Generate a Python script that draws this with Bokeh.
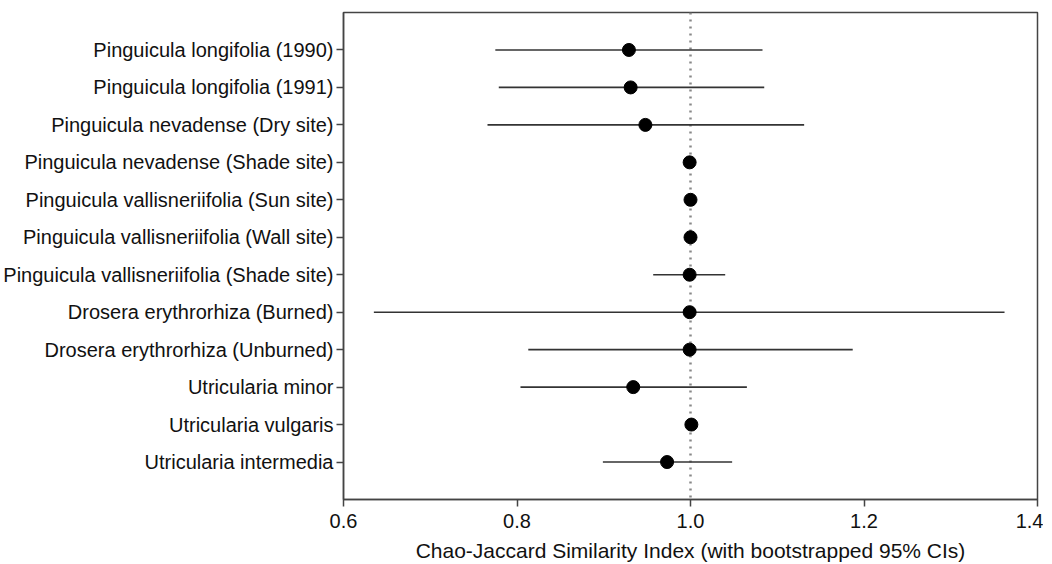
from bokeh.plotting import figure
from bokeh.models import ColumnDataSource, FixedTicker, Span, Range1d
from bokeh.embed import file_html
from bokeh.resources import INLINE

categories = [
    "Pinguicula longifolia (1990)",
    "Pinguicula longifolia (1991)",
    "Pinguicula nevadense (Dry site)",
    "Pinguicula nevadense (Shade site)",
    "Pinguicula vallisneriifolia (Sun site)",
    "Pinguicula vallisneriifolia (Wall site)",
    "Pinguicula vallisneriifolia (Shade site)",
    "Drosera erythrorhiza (Burned)",
    "Drosera erythrorhiza (Unburned)",
    "Utricularia minor",
    "Utricularia vulgaris",
    "Utricularia intermedia",
]
estimate = [0.929, 0.931, 0.948, 0.999, 1.000, 1.000, 0.999, 0.999, 0.999, 0.934, 1.001, 0.973]
ci_low   = [0.775, 0.779, 0.766, 0.999, 1.000, 1.000, 0.957, 0.635, 0.813, 0.804, 1.001, 0.899]
ci_high  = [1.083, 1.085, 1.131, 0.999, 1.000, 1.000, 1.040, 1.362, 1.187, 1.065, 1.001, 1.048]
x_ticks = [0.6, 0.8, 1.0, 1.2, 1.4]
x_label = "Chao-Jaccard Similarity Index (with bootstrapped 95% CIs)"

n = len(categories)
ypos = [n - i for i in range(n)]

src = ColumnDataSource(dict(y=ypos, est=estimate, lo=ci_low, hi=ci_high, name=categories))

FONT = "Liberation Sans"
TXT = "#111111"
AX = "#444444"

p = figure(
    frame_width=694, frame_height=487,
    x_range=Range1d(0.6, 1.4), y_range=Range1d(0, 13),
    output_backend="svg", toolbar_location=None,
    min_border_left=343, min_border_right=6, min_border_top=12, min_border_bottom=4,
)
p.grid.visible = False
p.background_fill_color = "white"
p.border_fill_color = "white"
p.outline_line_color = AX
p.outline_line_width = 1.5

p.add_layout(Span(location=1.0, dimension="height", line_color="#888888",
                  line_dash="2 5", line_width=2.5, level="underlay"))

p.segment(x0="lo", y0="y", x1="hi", y1="y", source=src, line_color="#333333", line_width=1.6)
p.scatter(x="est", y="y", source=src, size=13, fill_color="black", line_color="black")

p.xaxis.ticker = FixedTicker(ticks=x_ticks)
p.xaxis.major_label_overrides = {t: f"{t:.1f}" for t in x_ticks}
p.xaxis.axis_label = x_label
p.xaxis.axis_label_text_font = FONT
p.xaxis.axis_label_text_font_style = "normal"
p.xaxis.axis_label_text_font_size = "21px"
p.xaxis.axis_label_text_color = TXT
p.xaxis.axis_label_standoff = 8

p.yaxis.ticker = FixedTicker(ticks=ypos)
p.yaxis.major_label_overrides = {y: c for y, c in zip(ypos, categories)}

for ax in (p.xaxis, p.yaxis):
    ax.major_label_text_font = FONT
    ax.major_label_text_font_size = "20px"
    ax.major_label_text_color = TXT
    ax.axis_line_color = AX
    ax.axis_line_width = 1.5
    ax.major_tick_line_color = AX
    ax.major_tick_line_width = 1.5
    ax.major_tick_out = 7
    ax.major_tick_in = 0
    ax.minor_tick_line_color = None
p.xaxis.major_label_standoff = 7
p.yaxis.major_label_standoff = 3

open("out.html", "w").write(file_html(p, INLINE))
